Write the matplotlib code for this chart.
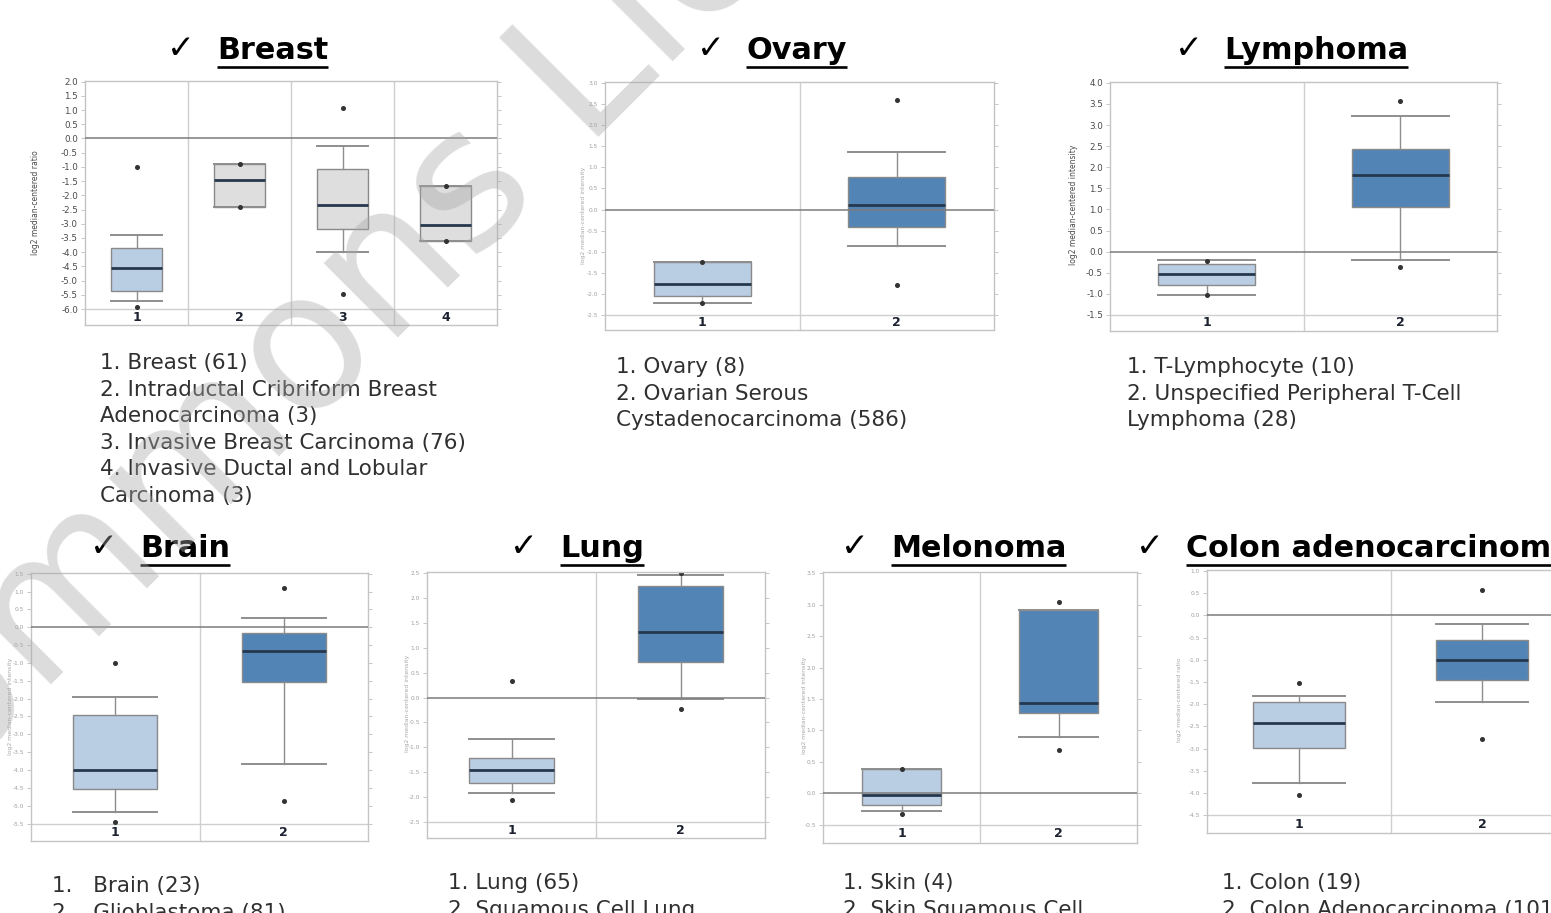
"""Expression boxplots per tissue type: seven small panels with tissue titles and group legends."""
import numpy as np
import matplotlib
matplotlib.use("Agg")
import matplotlib.pyplot as plt
from matplotlib.lines import Line2D

W, H = 1551, 913

LIGHT = "#b9cde3"
DARK = "#5284b6"
GRAY = "#dedede"

# box statistics per group: lower quartile, median, upper quartile, whisker ends, outliers
BREAST_Q1 = [-5.35, -2.42, -3.19, -3.62]
BREAST_MED = [-4.56, -1.45, -2.33, -3.06]
BREAST_Q3 = [-3.86, -0.89, -1.09, -1.68]
BREAST_LO = [-5.71, -2.42, -3.98, -3.62]
BREAST_HI = [-3.39, -0.89, -0.25, -1.68]
BREAST_OUT = [[-1.01, -5.94], [-0.89, -2.42], [1.08, -5.48], [-1.68, -3.62]]

OVARY_Q1 = [-2.05, -0.41]
OVARY_MED = [-1.76, 0.10]
OVARY_Q3 = [-1.25, 0.78]
OVARY_LO = [-2.20, -0.87]
OVARY_HI = [-1.25, 1.36]
OVARY_OUT = [[-1.25, -2.20], [2.60, -1.78]]

LYMPH_Q1 = [-0.78, 1.05]
LYMPH_MED = [-0.54, 1.82]
LYMPH_Q3 = [-0.30, 2.44]
LYMPH_LO = [-1.03, -0.19]
LYMPH_HI = [-0.19, 3.21]
LYMPH_OUT = [[-0.21, -1.03], [3.57, -0.36]]

BRAIN_Q1 = [-4.54, -1.54]
BRAIN_MED = [-3.99, -0.66]
BRAIN_Q3 = [-2.45, -0.17]
BRAIN_LO = [-5.19, -3.83]
BRAIN_HI = [-1.96, 0.25]
BRAIN_OUT = [[-1.01, -5.46], [1.11, -4.87]]

LUNG_Q1 = [-1.71, 0.72]
LUNG_MED = [-1.46, 1.32]
LUNG_Q3 = [-1.21, 2.23]
LUNG_LO = [-1.92, -0.03]
LUNG_HI = [-0.84, 2.45]
LUNG_OUT = [[0.34, -2.05], [2.50, -0.23]]

MELA_Q1 = [-0.18, 1.27]
MELA_MED = [-0.02, 1.44]
MELA_Q3 = [0.39, 2.92]
MELA_LO = [-0.28, 0.90]
MELA_HI = [0.39, 2.92]
MELA_OUT = [[0.39, -0.33], [3.04, 0.69]]

COLON_Q1 = [-2.99, -1.45]
COLON_MED = [-2.42, -1.01]
COLON_Q3 = [-1.95, -0.55]
COLON_LO = [-3.78, -1.95]
COLON_HI = [-1.81, -0.19]
COLON_OUT = [[-1.52, -4.05], [0.57, -2.79]]

BREAST_LEGEND = ["1. Breast (61)", "2. Intraductal Cribriform Breast", "Adenocarcinoma (3)",
                 "3. Invasive Breast Carcinoma (76)", "4. Invasive Ductal and Lobular",
                 "Carcinoma (3)"]
OVARY_LEGEND = ["1. Ovary (8)", "2. Ovarian Serous", "Cystadenocarcinoma (586)"]
LYMPH_LEGEND = ["1. T-Lymphocyte (10)", "2. Unspecified Peripheral T-Cell", "Lymphoma (28)"]
BRAIN_LEGEND = ["1.   Brain (23)", "2.   Glioblastoma (81)"]
LUNG_LEGEND = ["1. Lung (65)", "2. Squamous Cell Lung"]
MELA_LEGEND = ["1. Skin (4)", "2. Skin Squamous Cell"]
COLON_LEGEND = ["1. Colon (19)", "2. Colon Adenocarcinoma (101)"]

RATIO = "log2 median-centered ratio"
INTENS = "log2 median-centered intensity"


def frac(x, y):
    return x / W, 1 - y / H


def panel(fig, rect, cols, colors, ytop, ybot, ylim_lo, ylabel, lab_xy, crisp):
    left, top, right, bottom = rect
    ax = fig.add_axes([left / W, 1 - bottom / H, (right - left) / W, (bottom - top) / H])
    q1, med, q3, lo, hi, out = cols
    n = len(q1)
    stats = [dict(q1=a, med=m, q3=b, whislo=l, whishi=h, fliers=f)
             for a, m, b, l, h, f in zip(q1, med, q3, lo, hi, out)]
    bp = ax.bxp(stats, positions=range(1, n + 1), widths=0.5, capwidths=0.5,
                patch_artist=True,
                boxprops=dict(edgecolor="#8a8a8a", linewidth=1.0),
                medianprops=dict(color="#26384d", linewidth=2.0),
                whiskerprops=dict(color="#8e8e8e", linewidth=1.0),
                capprops=dict(color="#8e8e8e", linewidth=1.4),
                flierprops=dict(marker="o", markersize=2.6, markerfacecolor="#333333",
                                markeredgecolor="#333333"))
    for patch, c in zip(bp["boxes"], colors):
        patch.set_facecolor(c)

    ax.set_xlim(0.5, n + 0.5)
    ax.set_ylim(ylim_lo, ytop + 0.02)
    ticks = np.arange(ytop, ybot - 0.01, -0.5)
    ax.set_xticks([])
    ax.set_yticks(ticks)
    ax.set_yticklabels([f"{t:.1f}".replace("-0.0", "0.0") for t in ticks],
                       fontsize=6.3 if crisp else 4.2,
                       color="#4a4a4a" if crisp else "#a0a0a0")
    ax.tick_params(axis="y", length=3, width=0.6, color="#bdbdbd", pad=2, right=True)
    for s in ax.spines.values():
        s.set_color("#c4c4c4")
        s.set_linewidth(1.0)
    for k in range(1, n):
        ax.axvline(k + 0.5, color="#cfcfcf", lw=1.0, zorder=0)
    ax.axhline(0, color="#7c7c7c", lw=1.3, zorder=4, alpha=0.85)
    ax.axhline(ybot, color="#cfcfcf", lw=1.0, zorder=0)
    for k in range(n):
        ax.text(k + 1, (ybot + ylim_lo) / 2, str(k + 1), ha="center", va="center",
                fontsize=9, fontweight="bold", color="#1d2230")
    fig.text(*frac(*lab_xy), ylabel, rotation=90, ha="center", va="center",
             fontsize=5.5 if crisp else 4.4, color="#4a4a4a" if crisp else "#a8a8a8")
    return ax


def title(fig, x_check, x_word, base, word):
    fig.text(*frac(x_check, base - 1), "\u2713", fontsize=24, color="black",
             ha="left", va="baseline")
    return fig.text(*frac(x_word, base), word, fontsize=21.8, fontweight="bold",
                    color="black", ha="left", va="baseline")


def legend(fig, x, y0, lines, step=26.6):
    for i, s in enumerate(lines):
        fig.text(*frac(x, y0 + i * step), s, fontsize=15.5, color="#303030",
                 ha="left", va="center")


fig = plt.figure(figsize=(W / 100, H / 100), dpi=100)

panel(fig, (85, 81, 497, 325),
      (BREAST_Q1, BREAST_MED, BREAST_Q3, BREAST_LO, BREAST_HI, BREAST_OUT),
      [LIGHT, GRAY, GRAY, GRAY], 2.0, -6.0, -6.56, RATIO, (35, 203), True)
panel(fig, (605, 82, 994, 330),
      (OVARY_Q1, OVARY_MED, OVARY_Q3, OVARY_LO, OVARY_HI, OVARY_OUT),
      [LIGHT, DARK], 3.0, -2.5, -2.85, INTENS, (583, 215), False)
panel(fig, (1110, 82, 1497, 331),
      (LYMPH_Q1, LYMPH_MED, LYMPH_Q3, LYMPH_LO, LYMPH_HI, LYMPH_OUT),
      [LIGHT, DARK], 4.0, -1.5, -1.88, INTENS, (1073, 205), True)
panel(fig, (31, 573, 368, 841),
      (BRAIN_Q1, BRAIN_MED, BRAIN_Q3, BRAIN_LO, BRAIN_HI, BRAIN_OUT),
      [LIGHT, DARK], 1.5, -5.5, -5.99, INTENS, (11, 706), False)
panel(fig, (427, 572, 765, 838),
      (LUNG_Q1, LUNG_MED, LUNG_Q3, LUNG_LO, LUNG_HI, LUNG_OUT),
      [LIGHT, DARK], 2.5, -2.5, -2.82, INTENS, (407, 703), False)
panel(fig, (823, 572, 1137, 843),
      (MELA_Q1, MELA_MED, MELA_Q3, MELA_LO, MELA_HI, MELA_OUT),
      [LIGHT, DARK], 3.5, -0.5, -0.79, INTENS, (805, 705), False)
panel(fig, (1207, 570, 1574, 833),
      (COLON_Q1, COLON_MED, COLON_Q3, COLON_LO, COLON_HI, COLON_OUT),
      [LIGHT, DARK], 1.0, -4.5, -4.9, RATIO, (1179, 700), False)

heads = [
    title(fig, 167, 217, 59, "Breast"),
    title(fig, 697, 746, 59, "Ovary"),
    title(fig, 1175, 1224, 59, "Lymphoma"),
    title(fig, 90, 140, 557, "Brain"),
    title(fig, 510, 560, 557, "Lung"),
    title(fig, 841, 891, 557, "Melonoma"),
    title(fig, 1136, 1186, 557, "Colon adenocarcinoma"),
]

legend(fig, 100, 363, BREAST_LEGEND)
legend(fig, 616, 367, OVARY_LEGEND)
legend(fig, 1127, 367, LYMPH_LEGEND)
legend(fig, 52, 886, BRAIN_LEGEND)
legend(fig, 448, 883, LUNG_LEGEND)
legend(fig, 843, 883, MELA_LEGEND)
legend(fig, 1222, 883, COLON_LEGEND)

fig.canvas.draw()
renderer = fig.canvas.get_renderer()

# underline each heading word
for t in heads:
    bb = t.get_window_extent(renderer)
    base_y = t.get_position()[1] * H
    y = base_y - 8
    fig.add_artist(Line2D([bb.x0 / W, bb.x1 / W], [y / H, y / H], color="black", lw=1.9,
                          solid_capstyle="butt"))

# diagonal watermark, placed by the corner of its "L"
ang = 45.0
wm_size = 138
probe_a = fig.text(0, 0, "Commons L", fontsize=wm_size)
probe_b = fig.text(0, 0, "L", fontsize=wm_size)
shift = probe_a.get_window_extent(renderer).width - probe_b.get_window_extent(renderer).width
probe_a.remove()
probe_b.remove()
ax_x, ax_y = 586, H - 150
c, s = np.cos(np.radians(ang)), np.sin(np.radians(ang))
sx, sy = ax_x - shift * c, ax_y - shift * s
fig.text(sx / W, sy / H, "Commons License", fontsize=wm_size, rotation=ang,
         rotation_mode="anchor", ha="left", va="baseline", color="#a8a8a8", alpha=0.4,
         zorder=10)

fig.savefig("out.png", dpi=100)
